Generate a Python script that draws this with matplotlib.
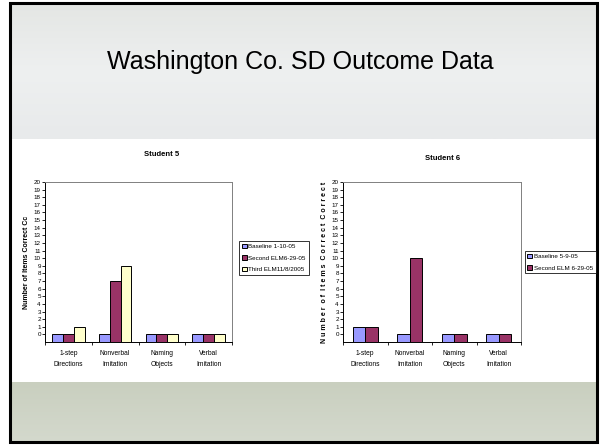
import numpy as np
import matplotlib
matplotlib.use("Agg")
import matplotlib.pyplot as plt
from matplotlib.patches import Rectangle

plt.rcParams['font.family'] = ['Liberation Sans', 'DejaVu Sans']

# data
categories = ['1-step\nDirections', 'Nonverbal\nImitation', 'Naming\nObjects', 'Verbal\nImitation']

s5_labels = ['Baseline 1-10-05', 'Second ELM6-29-05', 'Third ELM11/8/2005']
s5_baseline = [0, 0, 0, 0]
s5_second = [0, 7, 0, 0]
s5_third = [1, 9, 0, 0]

s6_labels = ['Baseline 5-9-05', 'Second ELM 6-29-05']
s6_baseline = [1, 0, 0, 0]
s6_second = [1, 10, 0, 0]

colors = ['#9999FF', '#993366', '#FFFFCC']
W, H = 600, 445


def px_box(x0, y0, x1, y1):
    """pixel box (top-left origin) -> figure fraction rect"""
    return [x0 / W, 1 - y1 / H, (x1 - x0) / W, (y1 - y0) / H]


fig = plt.figure(figsize=(6, 4.45), dpi=100, facecolor='white')

# slide background
bg = fig.add_axes([0, 0, 1, 1])
bg.set_xlim(0, W)
bg.set_ylim(H, 0)
bg.axis('off')
sky = matplotlib.colors.LinearSegmentedColormap.from_list('sky', ['#e8eaeb', '#eef0f0', '#e4e6e4'])
grass = matplotlib.colors.LinearSegmentedColormap.from_list('grass', ['#d4d9cd', '#c9cfbf'])
bg.imshow(np.linspace(0, 1, 50).reshape(-1, 1), extent=(10, 597, 139, 3), cmap=sky,
          aspect='auto', origin='lower')
bg.imshow(np.linspace(0, 1, 50).reshape(-1, 1), extent=(10, 597, 442, 382), cmap=grass,
          aspect='auto', origin='lower')
bg.add_patch(Rectangle((10, 139), 587, 243, facecolor='white', edgecolor='none'))
bg.add_patch(Rectangle((10, 3), 587, 439, facecolor='none', edgecolor='black', linewidth=2.2))
bg.text(300, 62, 'Washington Co. SD Outcome Data', fontsize=18, ha='center', va='center')


def draw_chart(rect, title, title_xy, series, labels, ylabel, legend_xy, width):
    ax = fig.add_axes(rect)
    x = np.arange(len(categories))
    n = len(series)
    for i, (vals, lab) in enumerate(zip(series, labels)):
        offs = (i - (n - 1) / 2) * width
        ax.bar(x + offs, np.array(vals) + 1, width, bottom=-1, color=colors[i],
               edgecolor='black', linewidth=0.7, label=lab)
    ax.set_xlim(-0.5, len(categories) - 0.5)
    ax.set_ylim(-1, 20)
    ax.set_yticks(range(0, 21))
    ax.set_yticklabels([str(v) for v in range(0, 21)], fontsize=4.5)
    ax.tick_params(axis='y', length=2, width=0.6, pad=1)
    ax.set_xticks(np.arange(-0.5, len(categories)))
    ax.set_xticklabels([])
    ax.tick_params(axis='x', length=2.5, width=0.6)
    ax.set_xticks(x, minor=True)
    ax.set_xticklabels(categories, minor=True, fontsize=4.8, linespacing=1.8)
    ax.tick_params(axis='x', which='minor', length=0, pad=6)
    ax.spines['top'].set_color('#808080')
    ax.spines['right'].set_color('#808080')
    for s in ax.spines.values():
        s.set_linewidth(0.7)
    ax.set_ylabel(ylabel, fontsize=5, fontweight='bold', labelpad=3)
    fig.text(title_xy[0] / W, 1 - title_xy[1] / H, title, fontsize=5.5, fontweight='bold',
             ha='center', va='center')
    leg = fig.legend(*ax.get_legend_handles_labels(), loc='center',
                     bbox_to_anchor=(legend_xy[0] / W, 1 - legend_xy[1] / H),
                     fontsize=4.5, frameon=True, fancybox=False, handlelength=0.7,
                     handleheight=0.7, handletextpad=0.3, borderpad=0.45, labelspacing=1.0,
                     borderaxespad=0)
    leg.get_frame().set_edgecolor('black')
    leg.get_frame().set_linewidth(0.7)
    return ax


draw_chart(px_box(45, 182, 232, 342), 'Student 5', (162, 155),
           [s5_baseline, s5_second, s5_third], s5_labels,
           'Number of Items Correct Cc', (274, 258), 0.23)
draw_chart(px_box(343, 182, 521, 342), 'Student 6', (443, 158),
           [s6_baseline, s6_second], s6_labels,
           'N u m b e r  o f  I t e m s  C o r r e c t  C o r r e c t', (560, 262), 0.285)

fig.savefig('out.png', dpi=100, facecolor='white')
